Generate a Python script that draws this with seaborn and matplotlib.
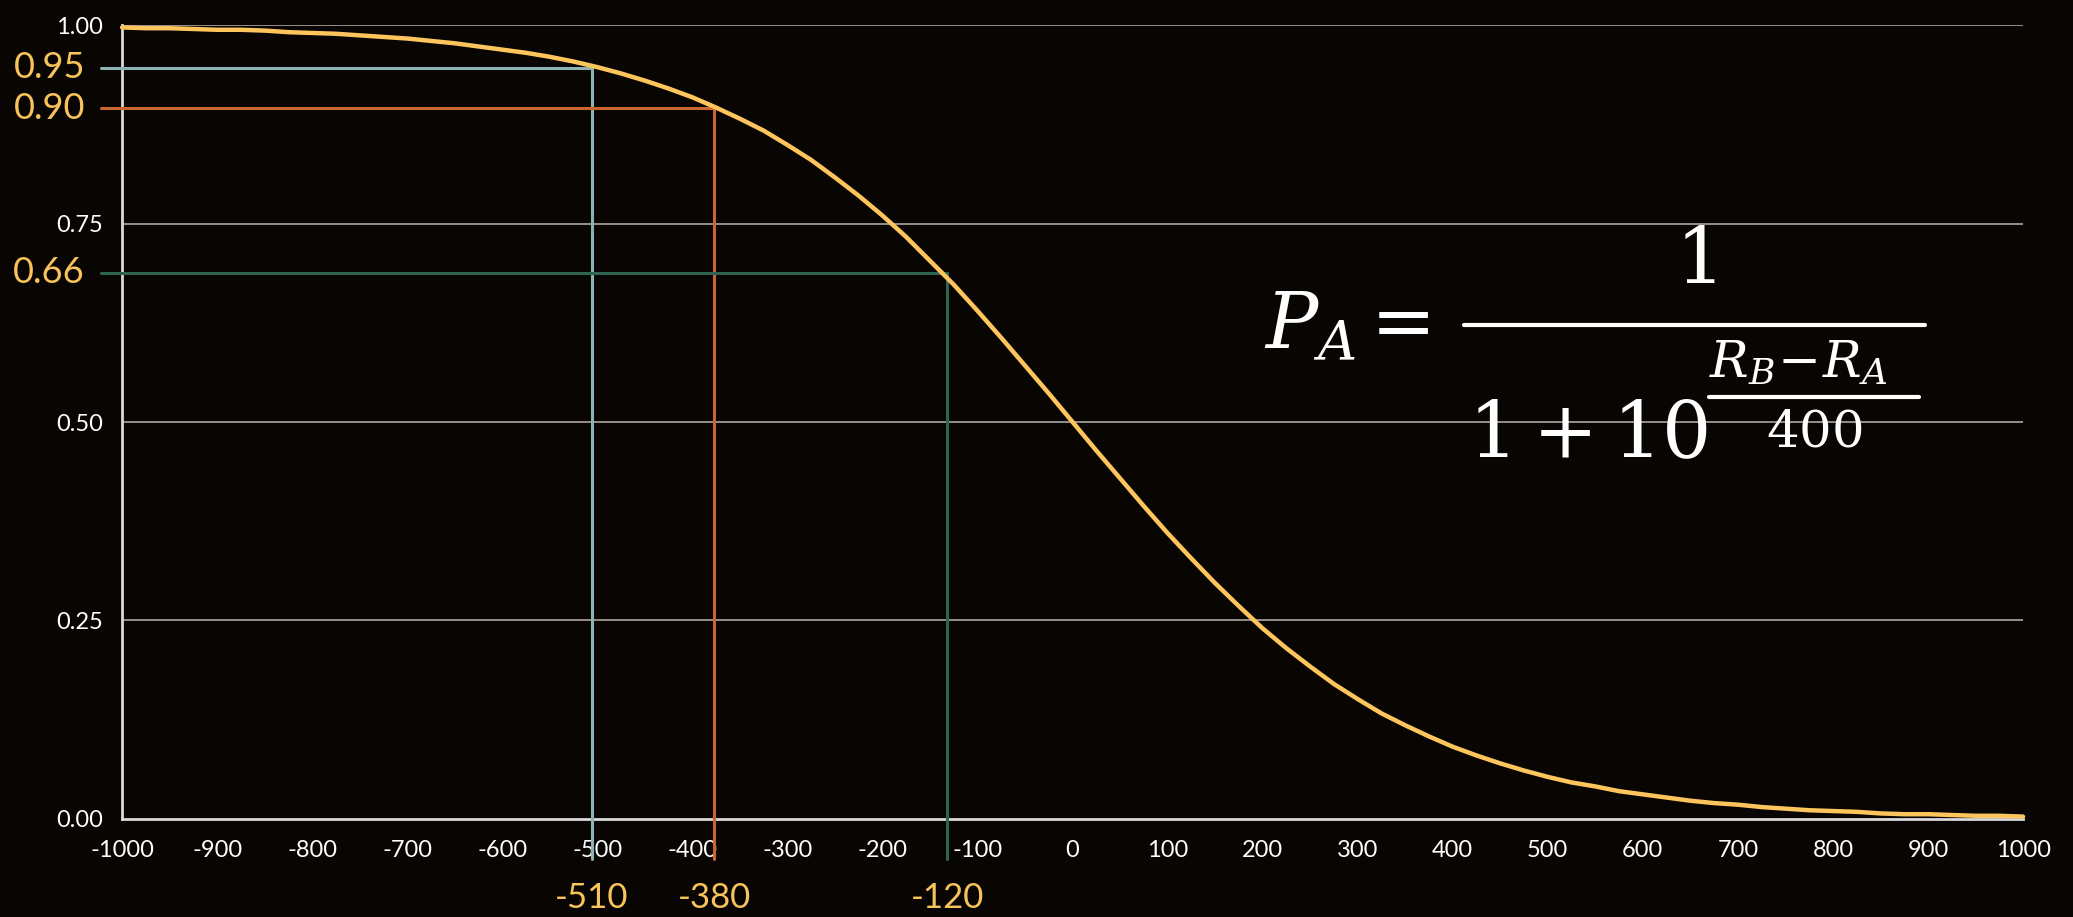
import numpy as np
import pandas as pd
import seaborn as sns
from matplotlib import pyplot as plt
from matplotlib.lines import Line2D

# rating difference (R_A - R_B) and expected score
rating_diff = list(range(-1000, 1001, 25))
expected = [0.997, 0.996, 0.996, 0.995, 0.994, 0.994, 0.993, 0.991, 0.990, 0.989,
            0.987, 0.985, 0.983, 0.980, 0.977, 0.973, 0.969, 0.965, 0.960, 0.954,
            0.947, 0.939, 0.930, 0.920, 0.909, 0.896, 0.882, 0.867, 0.849, 0.830,
            0.808, 0.785, 0.760, 0.733, 0.703, 0.673, 0.640, 0.606, 0.571, 0.536,
            0.500,
            0.464, 0.429, 0.394, 0.360, 0.328, 0.297, 0.268, 0.240, 0.215, 0.192,
            0.170, 0.151, 0.133, 0.118, 0.104, 0.091, 0.080, 0.070, 0.061, 0.053,
            0.046, 0.041, 0.035, 0.031, 0.027, 0.023, 0.020, 0.018, 0.015, 0.013,
            0.011, 0.010, 0.009, 0.007, 0.006, 0.006, 0.005, 0.004, 0.004, 0.003]

# marked points on the curve
mark_x = [-506, -377, -132]
mark_y = [0.946, 0.895, 0.688]
mark_xlabels = ["-510", "-380", "-120"]
mark_ylabels = ["0.95", "0.90", "0.66"]
mark_colors = ["#8fb1b1", "#c9652f", "#2f6450"]

xticks = list(range(-1000, 1001, 100))
yticks = [0.0, 0.25, 0.5, 0.75, 1.0]

bg = "#080503"
W, H = 2073, 917
sns.set_style("dark", {"axes.facecolor": bg, "figure.facecolor": bg})
plt.rcParams["font.family"] = ["Lato", "DejaVu Sans"]
plt.rcParams["axes.unicode_minus"] = False
plt.rcParams["mathtext.fontset"] = "dejavuserif"

fig = plt.figure(figsize=(W / 100, H / 100), dpi=100)
ax = fig.add_axes([0.0589, 0.1069, 0.917, 0.8658])

df = pd.DataFrame({"diff": rating_diff, "p": expected})
sns.lineplot(data=df, x="diff", y="p", ax=ax, color="#fdc55c", lw=3.2,
             zorder=5, solid_capstyle="round", clip_on=False)

ax.set_xlim(-1000, 1000)
ax.set_ylim(0, 1)
ax.set_xlabel("")
ax.set_ylabel("")

for y in yticks[1:]:
    ax.axhline(y, color="#a09a94", lw=1.3, zorder=1)

for x, y, c in zip(mark_x, mark_y, mark_colors):
    ax.plot([-1022, x], [y, y], color=c, lw=2.2, clip_on=False, zorder=3)
    ax.plot([x, x], [y, -0.05], color=c, lw=2.2, clip_on=False, zorder=3)

for x, lab in zip(mark_x, mark_xlabels):
    ax.text(x, -0.1, lab, color="#f7c35a", fontsize=25, ha="center", va="center",
            clip_on=False)
for y, lab in zip(mark_y, mark_ylabels):
    ax.text(-1039, y, lab, color="#f7c35a", fontsize=26, ha="right", va="center",
            clip_on=False)

ax.set_xticks(xticks)
ax.set_xticklabels([str(v) for v in xticks])
ax.set_yticks(yticks)
ax.set_yticklabels(["0.00", "0.25", "0.50", "0.75", "1.00"])
ax.tick_params(axis="x", direction="in", length=9, width=1.5, color="#d9d9d9",
               labelcolor="white", labelsize=17, pad=15)
ax.tick_params(axis="y", length=0, labelcolor="white", labelsize=17, pad=14)

for s in ["top", "right"]:
    ax.spines[s].set_visible(False)
for s in ["left", "bottom"]:
    ax.spines[s].set_color("#d9d9d9")
    ax.spines[s].set_linewidth(2)
ax.grid(False)


# formula, placed piece by piece in pixel coordinates
def ftext(x, y, s, size, ha="left"):
    fig.text(x / W, 1 - y / H, s, color="white", fontsize=size, ha=ha, va="baseline")


def fbar(x0, x1, y):
    fig.add_artist(Line2D([x0 / W, x1 / W], [1 - y / H, 1 - y / H],
                          transform=fig.transFigure, color="white", lw=3.0))


ftext(1264, 348, r"$P_A$", 56)
ftext(1356, 346, r"$=$", 56)
fbar(1464, 1925, 325)
ftext(1695, 283, r"$1$", 56, ha="center")
ftext(1468, 458, r"$1 + 10$", 56)
ftext(1709, 377, r"$R_B\!-\!R_A$", 37)
fbar(1709, 1919, 397)
ftext(1814, 447, r"$400$", 37, ha="center")

fig.savefig("out.png", dpi=100, facecolor=bg)
